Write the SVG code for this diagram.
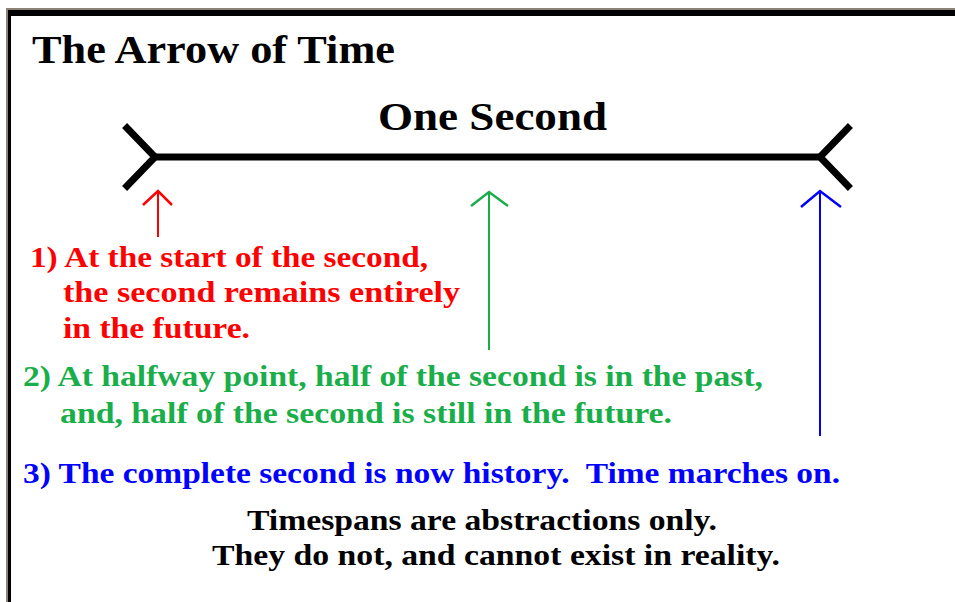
<svg xmlns="http://www.w3.org/2000/svg" width="955" height="602" viewBox="0 0 955 602">
<style>
  text { font-family: "Liberation Serif", "Times New Roman", serif; font-weight: bold; }
  .title { font-size: 39px; fill: #000; }
  .head { font-size: 41px; fill: #000; }
  .note { font-size: 30px; }
  .red { fill: #ff0000; }
  .green { fill: #1aae4a; }
  .blue { fill: #0000ff; }
  .black { fill: #000; }
  .tl { stroke: #000; stroke-width: 7; fill: none; stroke-linecap: square; stroke-linejoin: miter; }
  .shaft { fill: none; stroke-width: 2; }
  .tip { fill: none; stroke-width: 2.5; stroke-linejoin: miter; }
  .s-red { stroke: #ff0000; }
  .s-green { stroke: #1aae4a; }
  .s-blue { stroke: #0000ff; }
</style>
<rect x="0" y="0" width="955" height="602" fill="#ffffff"/>
<g id="frame">
  <rect x="6" y="8" width="949" height="594" fill="#8c8375"/>
  <rect x="8" y="10" width="947" height="592" fill="#000000"/>
  <rect x="11" y="16" width="944" height="586" fill="#ffffff"/>
</g>
<g id="title">
  <text class="title" x="32" y="63" textLength="363" lengthAdjust="spacingAndGlyphs">The Arrow of Time</text>
</g>
<g id="one-second">
  <text class="head" x="378" y="130" textLength="229" lengthAdjust="spacingAndGlyphs">One Second</text>
</g>
<g id="timeline">
  <line class="tl" x1="155" y1="157" x2="820" y2="157"/>
  <polyline class="tl" points="127,128 155,157 127,186"/>
  <polyline class="tl" points="848,128 820,157 848,186"/>
</g>
<g id="connectors">
  <g id="arrow-start">
    <line class="shaft s-red" x1="158" y1="237" x2="158" y2="192"/>
    <polyline class="tip s-red" points="143,205 158,191 172,205"/>
  </g>
  <g id="arrow-half">
    <line class="shaft s-green" x1="489" y1="350" x2="489" y2="193"/>
    <polyline class="tip s-green" points="471,206 489,192 508,206"/>
  </g>
  <g id="arrow-end">
    <line class="shaft s-blue" x1="820" y1="436" x2="820" y2="192"/>
    <polyline class="tip s-blue" points="801,207 820,191 841,207"/>
  </g>
</g>
<g id="note-start">
  <text class="note red" x="30" y="267" textLength="398" lengthAdjust="spacingAndGlyphs">1) At the start of the second,</text>
  <text class="note red" x="63" y="302" textLength="397" lengthAdjust="spacingAndGlyphs">the second remains entirely</text>
  <text class="note red" x="63" y="338" textLength="187" lengthAdjust="spacingAndGlyphs">in the future.</text>
</g>
<g id="note-half">
  <text class="note green" x="23" y="386" textLength="740" lengthAdjust="spacingAndGlyphs">2) At halfway point, half of the second is in the past,</text>
  <text class="note green" x="60" y="423" textLength="612" lengthAdjust="spacingAndGlyphs">and, half of the second is still in the future.</text>
</g>
<g id="note-end">
  <text class="note blue" x="23" y="483" textLength="817" lengthAdjust="spacingAndGlyphs" xml:space="preserve">3) The complete second is now history.  Time marches on.</text>
</g>
<g id="conclusion">
  <text class="note black" x="247" y="530" textLength="470" lengthAdjust="spacingAndGlyphs">Timespans are abstractions only.</text>
  <text class="note black" x="212" y="565" textLength="568" lengthAdjust="spacingAndGlyphs">They do not, and cannot exist in reality.</text>
</g>
</svg>
